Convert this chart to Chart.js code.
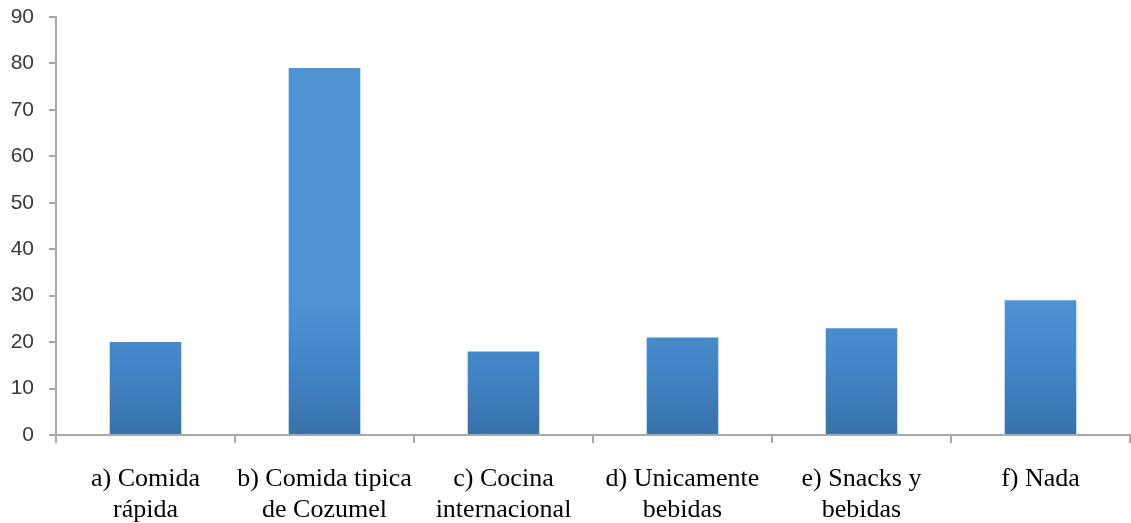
<!DOCTYPE html>
<html>
<head>
<meta charset="utf-8">
<script src="https://cdn.jsdelivr.net/npm/chart.js@4"></script>
<style>
  html, body { margin: 0; padding: 0; background: #fff; }
  #wrap { width: 1131px; height: 523px; }
</style>
</head>
<body>
<div id="wrap"><canvas id="myChart" width="1131" height="523"></canvas></div>
<script>
const categories = [
  ["a) Comida", "rápida"],
  ["b) Comida tipica", "de Cozumel"],
  ["c) Cocina", "internacional"],
  ["d) Unicamente", "bebidas"],
  ["e) Snacks y", "bebidas"],
  ["f) Nada"]
];
const values = [20, 79, 18, 21, 23, 29];
const yTicks = [0, 10, 20, 30, 40, 50, 60, 70, 80, 90];

// excel-like vertical gradient for each bar
const barGradient = {
  id: "barGradient",
  beforeDatasetsDraw(chart) {
    const ctx = chart.ctx;
    chart.getDatasetMeta(0).data.forEach(bar => {
      const g = ctx.createLinearGradient(0, bar.y, 0, bar.base);
      g.addColorStop(0, "#4f93d3");
      g.addColorStop(0.5, "#4285c6");
      g.addColorStop(1, "#3872aa");
      bar.options.backgroundColor = g;
    });
  }
};

const axisGray = "#a8a8a8";

new Chart(document.getElementById("myChart").getContext("2d"), {
  type: "bar",
  data: {
    labels: categories,
    datasets: [{
      label: "respuestas",
      data: values,
      backgroundColor: "#4285c6",
      borderWidth: 0,
      categoryPercentage: 1,
      barPercentage: 0.4
    }]
  },
  options: {
    responsive: false,
    animation: false,
    layout: { padding: { left: 0, top: 17, right: 1, bottom: 0 } },
    plugins: { legend: { display: false }, tooltip: { enabled: false } },
    scales: {
      x: {
        afterFit: axis => { axis.height = 88; },
        grid: { drawOnChartArea: false, drawTicks: true, tickLength: 8, color: axisGray, lineWidth: 2 },
        border: { color: axisGray, width: 2 },
        ticks: {
          color: "#000",
          padding: 21,
          maxRotation: 0,
          autoSkip: false,
          font: { family: "'Liberation Serif', 'Times New Roman', serif", size: 26, lineHeight: 1.19 }
        }
      },
      y: {
        min: 0,
        max: 90,
        afterFit: axis => { axis.width = 56; axis.paddingTop = 0; axis.paddingBottom = 0; },
        afterBuildTicks: axis => { axis.ticks = yTicks.map(v => ({ value: v })); },
        grid: { drawOnChartArea: false, drawTicks: true, tickLength: 7, color: axisGray, lineWidth: 2 },
        border: { color: axisGray, width: 2 },
        ticks: {
          color: "#3a3a3a",
          padding: 15,
          font: { family: "'Liberation Sans', Arial, sans-serif", size: 21 }
        }
      }
    }
  },
  plugins: [barGradient]
});
</script>
</body>
</html>
